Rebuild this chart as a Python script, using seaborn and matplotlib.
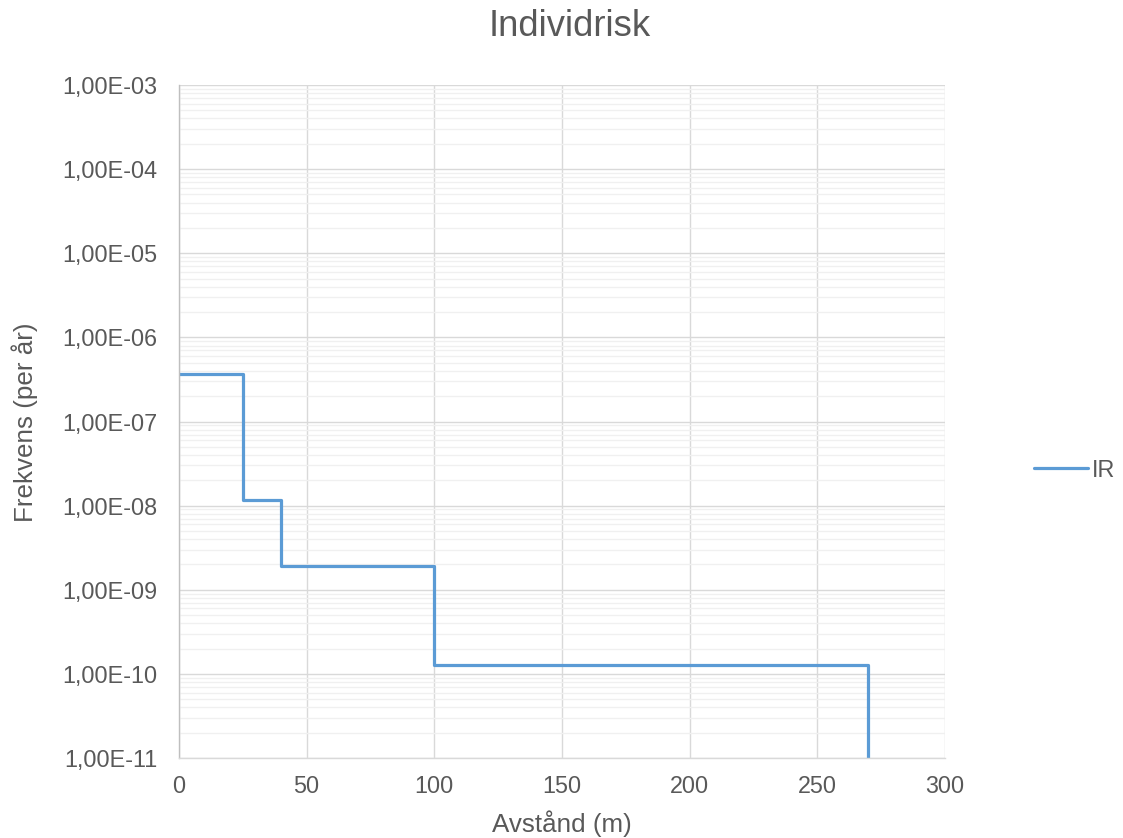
import math
import matplotlib
matplotlib.use("Agg")
import matplotlib.pyplot as plt
import seaborn as sns
import pandas as pd
from matplotlib.ticker import FixedLocator, FuncFormatter, NullFormatter, MultipleLocator

distance = [0, 25, 40, 100, 270]
ir_values = [3.70e-7, 1.16e-8, 1.94e-9, 1.28e-10, 1.0e-11]
series_name = "IR"
title = "Individrisk"
xlabel = "Avstånd (m)"
ylabel = "Frekvens (per år)"
y_exponents = list(range(-11, -2))

df = pd.DataFrame({"x": distance, "y": ir_values, "s": series_name})

sns.set_theme(style="white")
plt.rcParams["font.family"] = ["Liberation Sans", "DejaVu Sans"]

W, H = 1123, 838
fig = plt.figure(figsize=(W / 100, H / 100), dpi=100)
ax = fig.add_axes([179 / W, 1 - 758 / H, (945 - 179) / W, (758 - 85) / H])

sns.lineplot(data=df, x="x", y="y", hue="s", palette=["#5b9bd5"], ax=ax,
             drawstyle="steps-post", linewidth=2.3, legend=True)

ax.set_yscale("log")
ax.set_ylim(1e-11, 1e-3)
ax.set_xlim(0, 300)
ax.xaxis.set_major_locator(MultipleLocator(50))
major = [10.0 ** e for e in y_exponents]
minor = [m * 10.0 ** e for e in y_exponents[:-1] for m in range(2, 10)]
ax.yaxis.set_major_locator(FixedLocator(major))
ax.yaxis.set_minor_locator(FixedLocator(minor))
ax.yaxis.set_minor_formatter(NullFormatter())


def fmt(v, pos):
    e = int(round(math.log10(v)))
    return "1,00E%s%02d" % ("-" if e < 0 else "+", abs(e))


ax.yaxis.set_major_formatter(FuncFormatter(fmt))

ax.grid(True, which="major", axis="both", color="#d9d9d9", linewidth=1.0)
ax.grid(True, which="minor", axis="y", color="#f0f0f0", linewidth=1.0)
ax.set_axisbelow(True)

for s in ["top", "right"]:
    ax.spines[s].set_visible(False)
ax.spines["left"].set_color("#bfbfbf")
ax.spines["bottom"].set_color("#d9d9d9")
ax.spines["left"].set_linewidth(1.0)
ax.spines["bottom"].set_linewidth(1.0)

ax.tick_params(axis="both", which="both", length=0, labelsize=16.8, labelcolor="#595959")
ax.tick_params(axis="y", which="minor", labelleft=False)
ax.tick_params(axis="y", pad=15.5)
ax.tick_params(axis="x", pad=12)
ax.xaxis.get_offset_text().set_visible(False)
ax.yaxis.get_offset_text().set_visible(False)

ax.set_xlabel(xlabel, fontsize=18.7, color="#595959")
ax.set_ylabel(ylabel, fontsize=18.7, color="#595959")
ax.xaxis.label.set_va("center")
ax.yaxis.label.set_va("center")
ax.xaxis.set_label_coords((562 - 179) / (945 - 179), (758 - 824) / (758 - 85))
ax.yaxis.set_label_coords((25 - 179) / (945 - 179), (758 - 422) / (758 - 85))

fig.text(569.5 / W, 1 - 27 / H, title, fontsize=26.2, color="#595959",
         ha="center", va="center")

leg = ax.legend(loc="center left", bbox_to_anchor=(1034 / W, 1 - 470 / H),
                bbox_transform=fig.transFigure, frameon=False,
                fontsize=16.8, handlelength=2.3, handletextpad=0.2,
                borderpad=0, borderaxespad=0)
for t in leg.get_texts():
    t.set_color("#595959")
for l in leg.get_lines():
    l.set_linewidth(2.3)

fig.savefig("out.png", dpi=100)
